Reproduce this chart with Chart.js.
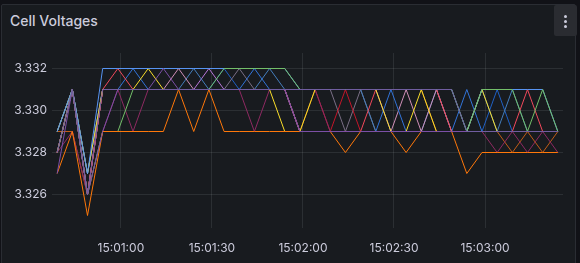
<!DOCTYPE html>
<html>
<head>
<meta charset="utf-8">
<script src="https://cdn.jsdelivr.net/npm/chart.js@4.4.1/dist/chart.umd.min.js"></script>
<style>
  html, body { margin:0; padding:0; background:#111217; width:580px; height:263px; overflow:hidden; }
  .panel { position:absolute; left:1px; top:4px; width:575px; height:270px; background:#181b1f; border:1px solid #2a2d33; border-radius:2px; box-sizing:border-box; }
  .title { position:absolute; left:10px; top:12px; font-family:Inter, "Noto Sans", sans-serif; font-size:14px; font-weight:500; color:#ccccdc; }
  .menu { position:absolute; left:554px; top:5px; width:23px; height:31px; background:#2a2c31; border-radius:2px; }
  .dot { position:absolute; left:10px; width:3px; height:3px; border-radius:50%; background:#ccccdc; }
  canvas { position:absolute; left:0; top:0; }
</style>
</head>
<body>
<div class="panel"></div>
<div class="title">Cell Voltages</div>
<div class="menu"><div class="dot" style="top:10px"></div><div class="dot" style="top:15px"></div><div class="dot" style="top:20px"></div></div>
<canvas id="c" width="580" height="263"></canvas>
<script>
// sample times (5 s interval)
const timeLabels = ["15:00:39","15:00:44","15:00:49","15:00:54","15:00:59",
  "15:01:04","15:01:09","15:01:14","15:01:19","15:01:24","15:01:29","15:01:34","15:01:39","15:01:44","15:01:49","15:01:54","15:01:59",
  "15:02:04","15:02:09","15:02:14","15:02:19","15:02:24","15:02:29","15:02:34","15:02:39","15:02:44","15:02:49","15:02:54","15:02:59",
  "15:03:04","15:03:09","15:03:14","15:03:19","15:03:24"];
const xTickLabels = ["15:01:00","15:01:30","15:02:00","15:02:30","15:03:00"];
const yTickValues = [3.326, 3.328, 3.330, 3.332];

const cell1  = [3.329,3.331,3.327,3.332,3.332,3.332,3.332,3.332,3.332,3.332,3.332,3.332,3.332,3.332,3.332,3.332,3.331,3.331,3.331,3.331,3.331,3.331,3.331,3.331,3.331,3.331,3.331,3.329,3.331,3.331,3.331,3.331,3.331,3.329];
const cell2  = [3.327,3.329,3.325,3.329,3.329,3.329,3.329,3.329,3.331,3.329,3.331,3.329,3.329,3.329,3.329,3.329,3.329,3.329,3.329,3.328,3.329,3.329,3.329,3.328,3.329,3.329,3.329,3.327,3.328,3.328,3.328,3.328,3.328,3.328];
const cell3  = [3.328,3.331,3.326,3.331,3.332,3.331,3.331,3.331,3.331,3.331,3.331,3.331,3.331,3.331,3.331,3.331,3.329,3.329,3.329,3.329,3.329,3.331,3.331,3.331,3.331,3.331,3.329,3.329,3.329,3.329,3.329,3.331,3.329,3.329];
const cell4  = [3.329,3.331,3.327,3.331,3.331,3.331,3.332,3.331,3.331,3.331,3.331,3.331,3.331,3.331,3.331,3.329,3.329,3.331,3.331,3.331,3.331,3.331,3.329,3.329,3.331,3.329,3.329,3.329,3.331,3.329,3.329,3.329,3.329,3.329];
const cell5  = [3.328,3.331,3.326,3.329,3.329,3.331,3.331,3.331,3.331,3.331,3.331,3.332,3.332,3.332,3.332,3.332,3.331,3.331,3.331,3.331,3.331,3.331,3.331,3.331,3.331,3.331,3.331,3.329,3.331,3.331,3.331,3.329,3.331,3.329];
const cell6  = [3.328,3.331,3.326,3.331,3.331,3.331,3.331,3.331,3.331,3.331,3.331,3.331,3.331,3.331,3.331,3.331,3.331,3.331,3.331,3.331,3.331,3.331,3.331,3.331,3.331,3.331,3.331,3.329,3.329,3.329,3.329,3.329,3.329,3.329];
const cell7  = [3.328,3.329,3.326,3.329,3.331,3.329,3.331,3.331,3.331,3.331,3.331,3.331,3.331,3.329,3.331,3.331,3.331,3.331,3.329,3.329,3.329,3.329,3.329,3.329,3.329,3.329,3.329,3.329,3.329,3.328,3.329,3.328,3.329,3.328];
const cell8  = [3.329,3.331,3.327,3.331,3.331,3.332,3.331,3.331,3.331,3.331,3.331,3.331,3.331,3.332,3.331,3.331,3.329,3.329,3.329,3.329,3.329,3.329,3.331,3.329,3.329,3.329,3.329,3.331,3.329,3.329,3.329,3.329,3.329,3.329];
const cell9  = [3.328,3.331,3.326,3.331,3.331,3.331,3.331,3.331,3.332,3.331,3.331,3.331,3.331,3.331,3.331,3.331,3.329,3.329,3.329,3.329,3.329,3.329,3.329,3.331,3.329,3.331,3.329,3.329,3.329,3.329,3.329,3.329,3.329,3.329];
const cell10 = [3.329,3.329,3.326,3.331,3.331,3.331,3.331,3.331,3.331,3.331,3.331,3.331,3.331,3.331,3.331,3.331,3.329,3.331,3.331,3.331,3.331,3.331,3.331,3.331,3.331,3.329,3.329,3.329,3.329,3.329,3.328,3.329,3.328,3.329];
const cell11 = [3.328,3.331,3.326,3.331,3.331,3.331,3.331,3.331,3.331,3.331,3.331,3.331,3.331,3.331,3.331,3.331,3.331,3.331,3.329,3.331,3.329,3.329,3.329,3.329,3.329,3.329,3.329,3.329,3.329,3.329,3.329,3.329,3.329,3.329];
const cell12 = [3.329,3.331,3.327,3.331,3.331,3.331,3.331,3.331,3.331,3.332,3.331,3.331,3.331,3.331,3.332,3.331,3.331,3.331,3.331,3.331,3.331,3.329,3.329,3.329,3.329,3.331,3.329,3.329,3.331,3.329,3.331,3.329,3.329,3.329];
const cell13 = [3.328,3.331,3.326,3.331,3.331,3.331,3.331,3.331,3.331,3.331,3.331,3.331,3.332,3.331,3.331,3.331,3.331,3.331,3.331,3.329,3.331,3.329,3.329,3.329,3.329,3.329,3.329,3.329,3.329,3.329,3.329,3.329,3.329,3.329];
const cell14 = [3.328,3.331,3.326,3.331,3.331,3.331,3.331,3.331,3.331,3.331,3.332,3.331,3.331,3.331,3.331,3.331,3.331,3.331,3.331,3.331,3.331,3.331,3.329,3.329,3.329,3.329,3.329,3.329,3.329,3.329,3.329,3.329,3.329,3.329];
const cell15 = [3.329,3.331,3.327,3.331,3.331,3.331,3.331,3.331,3.331,3.331,3.331,3.332,3.331,3.331,3.331,3.331,3.329,3.329,3.329,3.329,3.329,3.329,3.329,3.329,3.329,3.329,3.329,3.329,3.329,3.331,3.329,3.329,3.329,3.329];
const cell16 = [3.327,3.331,3.326,3.329,3.331,3.331,3.331,3.332,3.331,3.331,3.331,3.331,3.331,3.331,3.331,3.331,3.329,3.329,3.329,3.329,3.329,3.329,3.329,3.329,3.329,3.329,3.329,3.329,3.329,3.329,3.329,3.329,3.329,3.329];

const seriesNames = ["Cell 1","Cell 2","Cell 3","Cell 4","Cell 5","Cell 6","Cell 7","Cell 8","Cell 9","Cell 10","Cell 11","Cell 12","Cell 13","Cell 14","Cell 15","Cell 16"];
const seriesValues = [cell1,cell2,cell3,cell4,cell5,cell6,cell7,cell8,cell9,cell10,cell11,cell12,cell13,cell14,cell15,cell16];
const seriesColors = ["#5794F2","#FF780A","#F2495C","#FADE2A","#73BF69","#705DA0","#8E2A62","#3274D9","#D08FB8","#C15C17","#C4162A","#447EBC","#7A6F86","#B877D9","#1F60C4","#7B4FA6"];
const drawOrder = [6,2,8,7,5,0,9,10,11,12,13,14,15,16,17,1];

function toSec(s){ const p=s.split(':').map(Number); return p[0]*3600+p[1]*60+p[2]; }
function fmt(v){ const h=Math.floor(v/3600), m=Math.floor((v%3600)/60), s=Math.round(v%60);
  return String(h).padStart(2,'0')+':'+String(m).padStart(2,'0')+':'+String(s).padStart(2,'0'); }

const xs = timeLabels.map(toSec);
const datasets = seriesValues.map((vals,i)=>({
  label: seriesNames[i],
  data: vals.map((v,j)=>({x:xs[j], y:v})),
  borderColor: seriesColors[i],
  backgroundColor: seriesColors[i],
  borderWidth: 1,
  pointRadius: 0,
  tension: 0,
  fill: false,
  order: drawOrder[i]
}));

const tickFont = { family: "Inter, 'Noto Sans', sans-serif", size: 12 };
new Chart(document.getElementById('c'), {
  type: 'line',
  data: { datasets },
  options: {
    responsive: false,
    animation: false,
    layout: { padding: { top: 53, right: 17, left: 0, bottom: 0 } },
    plugins: { legend: { display: false }, tooltip: { enabled: false } },
    scales: {
      x: {
        type: 'linear',
        min: 54037.3, max: 54205.7,
        afterBuildTicks: (s) => { s.ticks = xTickLabels.map(t => ({ value: toSec(t) })); },
        afterFit: (s) => { s.height = 35; },
        ticks: { callback: (v) => fmt(v), color: '#ccccdc', font: tickFont, padding: 13, maxRotation: 0, autoSkip: false },
        grid: { color: 'rgba(240,250,255,0.09)', drawTicks: false },
        border: { display: false }
      },
      y: {
        type: 'linear',
        min: 3.3244048, max: 3.3327381,
        afterBuildTicks: (s) => { s.ticks = yTickValues.map(v => ({ value: v })); },
        afterFit: (s) => { s.width = 52; },
        ticks: { callback: (v) => v.toFixed(3), color: '#ccccdc', font: tickFont, padding: 5 },
        grid: { color: 'rgba(240,250,255,0.09)', drawTicks: false },
        border: { display: false }
      }
    }
  }
});
</script>
</body>
</html>
